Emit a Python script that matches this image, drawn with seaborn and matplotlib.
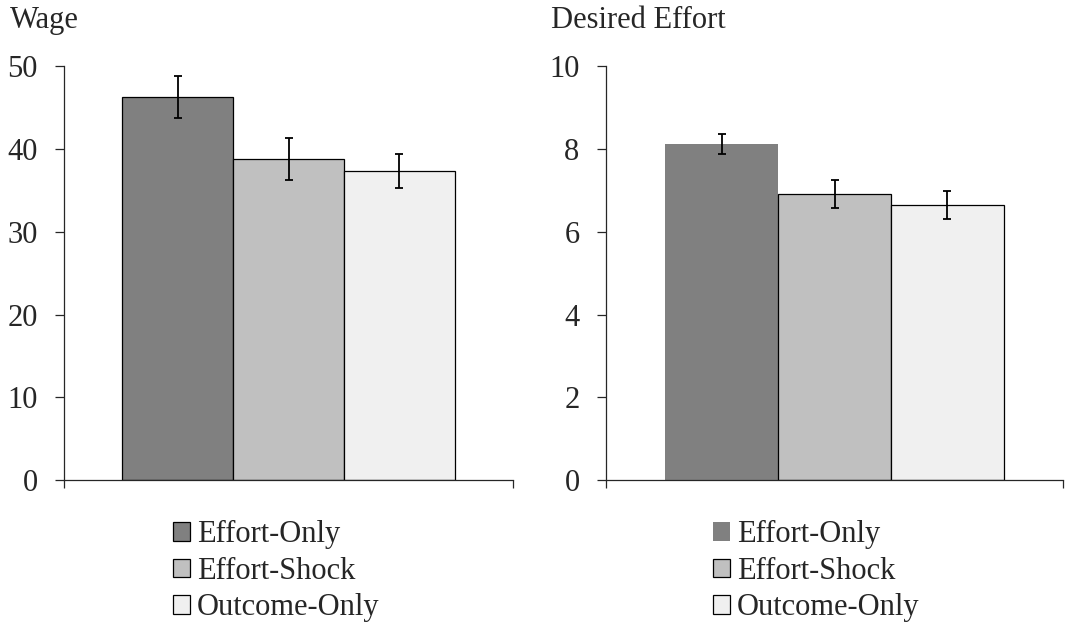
import matplotlib
matplotlib.use("Agg")
import matplotlib.pyplot as plt
from matplotlib.patches import Patch
import pandas as pd
import seaborn as sns

# Data
conditions = ["Effort-Only", "Effort-Shock", "Outcome-Only"]
wage_mean = [46.25, 38.8, 37.3]
wage_err = [2.55, 2.55, 2.05]
effort_mean = [8.13, 6.91, 6.65]
effort_err = [0.245, 0.33, 0.34]
colors = ["#808080", "#c0c0c0", "#f0f0f0"]

sns.set_style("ticks")
plt.rcParams["font.family"] = ["Liberation Serif", "DejaVu Serif"]
plt.rcParams["axes.linewidth"] = 0.9

FS = 22
W, H = 1069, 624
fig = plt.figure(figsize=(W / 100, H / 100), dpi=100)


def px_axes(x0, x1, y0, y1):
    """Axes from pixel box (x0..x1 left-right, y0..y1 top-bottom)."""
    return fig.add_axes([x0 / W, 1 - y1 / H, (x1 - x0) / W, (y1 - y0) / H])


def draw_panel(ax, means, errs, ymax, yticks, title, tx, edge_first=True):
    df = pd.DataFrame({"group": ["all"] * 3, "cond": conditions, "value": means})
    sns.barplot(data=df, x="group", y="value", hue="cond", hue_order=conditions,
                palette=colors, width=0.74, errorbar=None, edgecolor="black",
                linewidth=0.9, saturation=1, legend=False, ax=ax)
    bars = ax.patches[:3]
    if not edge_first:
        bars[0].set_linewidth(0)
    xs = [b.get_x() + b.get_width() / 2 for b in bars]
    ax.errorbar(xs, means, yerr=errs, fmt="none", ecolor="black",
                elinewidth=1.3, capsize=2.6, capthick=1.3)
    ax.set_xlim(-0.5, 0.5)
    ax.set_ylim(0, ymax)
    ax.set_yticks(yticks)
    ax.set_xticks([-0.5, 0.5])
    ax.set_xticklabels(["", ""])
    ax.set_xlabel("")
    ax.set_ylabel("")
    ax.tick_params(axis="y", labelsize=FS, length=6.5, width=0.9, pad=12.5)
    ax.tick_params(axis="x", length=6, width=0.9)
    sns.despine(ax=ax)
    fig.text(tx / W, 1 - 28 / H, title, fontsize=FS, va="baseline", ha="left")

    handles = []
    for i, (c, lab) in enumerate(zip(colors, conditions)):
        lw = 0 if (i == 0 and not edge_first) else 0.9
        handles.append(Patch(facecolor=c, edgecolor="black", linewidth=lw, label=lab))
    return handles


ax1 = px_axes(64, 513, 66.3, 480)
h1 = draw_panel(ax1, wage_mean, wage_err, 50, [0, 10, 20, 30, 40, 50], "Wage", 10)
ax2 = px_axes(606, 1063, 66.3, 480)
h2 = draw_panel(ax2, effort_mean, effort_err, 10, [0, 2, 4, 6, 8, 10],
                "Desired Effort", 551, edge_first=False)

for handles, lx in [(h1, 173), (h2, 713)]:
    fig.legend(handles=handles, loc="upper left", bbox_to_anchor=(lx / W, 1 - 520 / H),
               frameon=False, fontsize=FS, handlelength=0.56, handleheight=0.56,
               handletextpad=0.22, labelspacing=0.25, borderpad=0, borderaxespad=0)

fig.savefig("out.png", dpi=100)
